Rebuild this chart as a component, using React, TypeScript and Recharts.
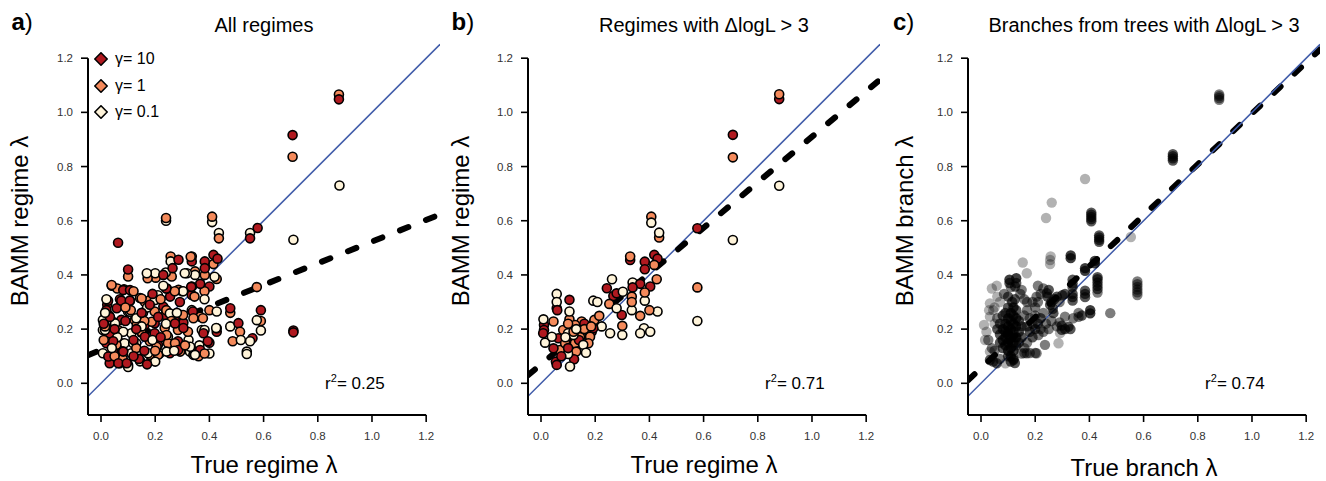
import React from 'react';
import { ScatterChart, Scatter, XAxis, YAxis, ReferenceLine, ReferenceDot, Legend } from 'recharts';

const FONT = '"Liberation Sans", Arial, Helvetica, sans-serif';
const RED = '#B0191F';
const ORANGE = '#F48A5B';
const CREAM = '#FFF4DA';
const BLUE = '#3F5BA9';

type P = [number, number];
type PN = [number, number, number];

const tickValues = [0, 0.2, 0.4, 0.6, 0.8, 1.0, 1.2];
const xDomain: [number, number] = [-0.048, 1.251];
const yDomain: [number, number] = [-0.117, 1.256];

const panelTags = ['a', 'b', 'c'];
const panelTitles = ['All regimes', 'Regimes with \u0394logL > 3', 'Branches from trees with \u0394logL > 3'];
const xLabels = ['True regime \u03bb', 'True regime \u03bb', 'True branch \u03bb'];
const yLabels = ['BAMM regime \u03bb', 'BAMM regime \u03bb', 'BAMM branch \u03bb'];
const r2Values = ['0.25', '0.71', '0.74'];
const fitIntercepts = [0.123, 0.07, 0.056];
const fitSlopes = [0.4, 0.84, 0.94];
const legendLabels = ['\u03b3= 10', '\u03b3= 1', '\u03b3= 0.1'];

// Panel a: all regimes
const aRed: P[] = [[0.063,0.519],[0.707,0.916],[0.878,1.048],[0.71,0.195],[0.71,0.188],[0.55,0.535],[0.578,0.573],[0.59,0.27],[0.477,0.277],[0.507,0.222],[0.559,0.166],[0.427,0.19],[0.40,0.15],[0.415,0.474],[0.43,0.46],[0.40,0.357],[0.383,0.45],[0.383,0.425],[0.366,0.367],[0.335,0.357],[0.335,0.326],[0.335,0.45],[0.298,0.252],[0.304,0.224],[0.286,0.456],[0.264,0.425],[0.255,0.32],[0.243,0.35],[0.23,0.40],[0.10,0.42],[0.085,0.347],[0.023,0.29],[0.058,0.277],[0.07,0.31],[0.107,0.305],[0.23,0.283],[0.236,0.252],[0.378,0.185],[0.366,0.123],[0.02,0.27],[0.075,0.234],[0.161,0.215],[0.198,0.222],[0.032,0.185],[0.198,0.185],[0.284,0.155],[0.02,0.148],[0.21,0.142],[0.044,0.117],[0.081,0.117],[0.254,0.111],[0.032,0.074],[0.069,0.074],[0.10,0.068],[0.339,0.265],[0.272,0.234],[0.394,0.155],[0.241,0.35],[0.333,0.356],[0.026,0.305],[0.075,0.305],[0.106,0.305],[0.082,0.344],[0.107,0.344],[0.033,0.245],[0.162,0.172],[0.045,0.155],[0.027,0.099],[0.082,0.117],[0.285,0.123],[0.064,0.074],[0.095,0.074],[0.273,0.221],[0.304,0.204],[0.291,0.3],[0.211,0.245],[0.13,0.2],[0.15,0.26],[0.18,0.29],[0.12,0.16],[0.05,0.2],[0.09,0.23],[0.16,0.12],[0.22,0.17],[0.14,0.09],[0.01,0.22],[0.19,0.33],[0.17,0.07],[0.12,0.1]];
const aOrange: P[] = [[0.878,1.066],[0.707,0.836],[0.24,0.61],[0.41,0.615],[0.435,0.535],[0.575,0.355],[0.59,0.23],[0.477,0.26],[0.486,0.155],[0.513,0.19],[0.427,0.385],[0.427,0.203],[0.40,0.27],[0.415,0.44],[0.383,0.40],[0.382,0.34],[0.366,0.246],[0.347,0.413],[0.335,0.468],[0.286,0.345],[0.257,0.468],[0.261,0.394],[0.202,0.39],[0.172,0.388],[0.10,0.394],[0.04,0.36],[0.06,0.35],[0.144,0.315],[0.162,0.30],[0.36,0.10],[0.292,0.117],[0.331,0.467],[0.18,0.307],[0.272,0.34],[0.345,0.32],[0.198,0.265],[0.241,0.27],[0.303,0.252],[0.376,0.24],[0.382,0.11],[0.124,0.234],[0.235,0.204],[0.284,0.197],[0.321,0.19],[0.063,0.197],[0.149,0.19],[0.057,0.142],[0.18,0.155],[0.247,0.148],[0.18,0.105],[0.039,0.363],[0.15,0.313],[0.132,0.215],[0.187,0.227],[0.242,0.178],[0.205,0.135],[0.273,0.148],[0.211,0.105],[0.341,0.24],[0.03,0.25],[0.11,0.27],[0.2,0.12],[0.13,0.13],[0.08,0.09],[0.16,0.23],[0.26,0.23],[0.22,0.31],[0.01,0.16],[0.05,0.1],[0.12,0.34],[0.31,0.14],[0.09,0.28],[0.015,0.21]];
const aCream: P[] = [[0.24,0.60],[0.41,0.595],[0.435,0.555],[0.55,0.555],[0.71,0.53],[0.88,0.73],[0.59,0.195],[0.575,0.233],[0.477,0.21],[0.516,0.16],[0.538,0.117],[0.538,0.108],[0.55,0.155],[0.427,0.265],[0.40,0.11],[0.382,0.31],[0.335,0.27],[0.347,0.40],[0.317,0.406],[0.30,0.34],[0.257,0.45],[0.239,0.409],[0.20,0.406],[0.169,0.406],[0.205,0.31],[0.372,0.197],[0.323,0.16],[0.328,0.117],[0.341,0.105],[0.21,0.325],[0.303,0.34],[0.382,0.197],[0.425,0.204],[0.363,0.14],[0.345,0.11],[0.10,0.265],[0.155,0.26],[0.007,0.234],[0.044,0.227],[0.007,0.197],[0.112,0.185],[0.247,0.172],[0.087,0.148],[0.13,0.148],[0.007,0.111],[0.112,0.111],[0.143,0.086],[0.217,0.111],[0.419,0.393],[0.309,0.406],[0.199,0.307],[0.107,0.264],[0.052,0.221],[0.015,0.197],[0.082,0.19],[0.254,0.258],[0.119,0.148],[0.144,0.081],[0.174,0.111],[0.242,0.117],[0.329,0.135],[0.347,0.105],[0.02,0.31],[0.06,0.17],[0.15,0.21],[0.19,0.16],[0.24,0.22],[0.28,0.26],[0.1,0.06],[0.17,0.28],[0.04,0.13],[0.27,0.12],[0.2,0.08],[0.13,0.24],[0.23,0.36],[0.015,0.26]];

// Panel b: regimes with dlogL > 3
const bRed: P[] = [[0.879,1.049],[0.708,0.917],[0.577,0.572],[0.329,0.455],[0.418,0.474],[0.43,0.46],[0.383,0.449],[0.383,0.421],[0.403,0.357],[0.366,0.367],[0.338,0.354],[0.298,0.252],[0.243,0.351],[0.267,0.322],[0.279,0.332],[0.058,0.277],[0.105,0.308],[0.011,0.215],[0.011,0.197],[0.008,0.185],[0.064,0.166],[0.046,0.129],[0.055,0.08],[0.058,0.068],[0.122,0.089],[0.187,0.19],[0.193,0.203],[0.06,0.27],[0.10,0.13],[0.14,0.16],[0.16,0.22],[0.075,0.1]];
const bOrange: P[] = [[0.879,1.067],[0.708,0.834],[0.577,0.354],[0.407,0.615],[0.436,0.538],[0.329,0.468],[0.418,0.437],[0.427,0.384],[0.383,0.335],[0.335,0.32],[0.335,0.30],[0.366,0.249],[0.40,0.27],[0.30,0.212],[0.252,0.293],[0.197,0.234],[0.215,0.249],[0.105,0.236],[0.046,0.228],[0.07,0.123],[0.089,0.148],[0.082,0.197],[0.125,0.148],[0.13,0.117],[0.144,0.17],[0.169,0.197],[0.181,0.172],[0.175,0.148],[0.15,0.228],[0.126,0.215],[0.1,0.22],[0.16,0.2],[0.12,0.19],[0.185,0.21]];
const bCream: P[] = [[0.879,0.729],[0.708,0.529],[0.577,0.23],[0.407,0.593],[0.436,0.556],[0.383,0.305],[0.338,0.372],[0.335,0.27],[0.43,0.265],[0.38,0.203],[0.366,0.185],[0.403,0.19],[0.30,0.178],[0.255,0.185],[0.224,0.21],[0.262,0.384],[0.302,0.338],[0.279,0.277],[0.193,0.305],[0.208,0.30],[0.058,0.33],[0.058,0.30],[0.105,0.265],[0.009,0.236],[0.015,0.15],[0.04,0.172],[0.10,0.108],[0.107,0.062],[0.10,0.185],[0.12,0.178],[0.156,0.142],[0.166,0.113],[0.13,0.2],[0.09,0.17]];

// Panel c: branches, [true, estimated, number of coincident branches]
const cStacks: PN[] = [[0.879,1.046,2],[0.879,1.053,2],[0.879,1.06,2],[0.879,1.066,2],[0.708,0.822,3],[0.708,0.83,3],[0.708,0.838,3],[0.708,0.846,3],[0.407,0.598,3],[0.407,0.606,3],[0.407,0.614,3],[0.407,0.622,3],[0.407,0.63,3],[0.436,0.522,3],[0.436,0.53,3],[0.436,0.538,3],[0.436,0.546,3],[0.577,0.326,2],[0.577,0.336,2],[0.577,0.346,2],[0.577,0.356,2],[0.577,0.366,2],[0.577,0.376,2],[0.43,0.335,2],[0.43,0.348,3],[0.43,0.36,3],[0.43,0.372,3],[0.43,0.384,3],[0.43,0.392,3],[0.331,0.462,4],[0.331,0.472,4],[0.384,0.415,4],[0.384,0.425,4],[0.42,0.443,4],[0.42,0.452,4],[0.384,0.318,3],[0.384,0.33,3],[0.384,0.342,3],[0.338,0.305,3],[0.338,0.318,3],[0.338,0.33,3],[0.338,0.355,3],[0.338,0.368,3],[0.338,0.382,3],[0.403,0.258,4],[0.403,0.27,4],[0.372,0.25,3],[0.36,0.245,2]];
const cSingles: PN[] = [[0.384,0.754,1],[0.261,0.667,1],[0.24,0.61,1],[0.553,0.54,1],[0.257,0.468,1],[0.255,0.44,1],[0.154,0.446,1],[0.169,0.406,1],[0.058,0.36,1],[0.033,0.295,1],[0.011,0.215,1],[0.033,0.246,1],[0.015,0.16,1],[0.033,0.117,1],[0.286,0.148,1],[0.292,0.185,1],[0.09,0.074,1],[0.255,0.455,1],[0.477,0.259,2],[0.236,0.142,2],[0.212,0.178,2],[0.18,0.112,2],[0.2,0.112,2],[0.16,0.112,2],[0.34,0.24,2],[0.36,0.26,2]];
const cBand: PN[] = [[0.31,0.246,2],[0.298,0.197,3],[0.298,0.213,3],[0.323,0.209,3],[0.31,0.2,3],[0.28,0.21,2],[0.29,0.225,2],[0.33,0.2,3],[0.243,0.333,3],[0.25,0.345,3],[0.245,0.32,3],[0.255,0.29,3],[0.267,0.259,3],[0.26,0.3,3],[0.27,0.31,3],[0.28,0.32,3],[0.3,0.325,3],[0.31,0.33,3],[0.29,0.3,2],[0.265,0.275,3],[0.22,0.33,2],[0.23,0.35,2],[0.21,0.36,2],[0.205,0.32,2],[0.21,0.3,2],[0.22,0.24,3],[0.23,0.26,2],[0.19,0.22,3],[0.2,0.2,3],[0.18,0.24,2],[0.21,0.22,3],[0.17,0.21,3],[0.2,0.25,2],[0.22,0.2,2],[0.24,0.22,2],[0.25,0.2,2],[0.26,0.23,2],[0.23,0.19,2],[0.18,0.19,3],[0.16,0.25,2],[0.17,0.27,2],[0.2,0.28,2],[0.19,0.3,2]];
const cCluster: PN[] = [[0.105,0.382,4],[0.13,0.388,4],[0.13,0.37,3],[0.126,0.357,3],[0.105,0.37,3],[0.11,0.355,2],[0.145,0.33,2],[0.16,0.31,2],[0.17,0.3,2],[0.15,0.345,2],[0.085,0.33,2],[0.07,0.3,1],[0.06,0.32,1],[0.045,0.27,1],[0.05,0.22,1],[0.04,0.35,1],[0.03,0.27,1],[0.02,0.19,1],[0.06,0.2,3],[0.07,0.18,3],[0.08,0.16,4],[0.09,0.14,4],[0.1,0.12,4],[0.11,0.1,4],[0.12,0.09,3],[0.08,0.2,4],[0.09,0.22,4],[0.1,0.24,4],[0.11,0.26,4],[0.12,0.28,4],[0.1,0.18,4],[0.11,0.2,4],[0.12,0.22,4],[0.13,0.24,4],[0.09,0.17,4],[0.1,0.15,4],[0.11,0.13,4],[0.12,0.15,4],[0.13,0.17,4],[0.14,0.19,3],[0.12,0.12,4],[0.13,0.14,3],[0.1,0.21,4],[0.11,0.23,4],[0.09,0.26,3],[0.1,0.28,3],[0.08,0.25,3],[0.07,0.22,3],[0.12,0.25,4],[0.13,0.27,3],[0.14,0.23,3],[0.15,0.21,3],[0.15,0.17,3],[0.14,0.15,3],[0.11,0.17,4],[0.1,0.19,4],[0.09,0.19,4],[0.12,0.19,4],[0.13,0.21,4],[0.08,0.13,3],[0.07,0.15,3],[0.1,0.1,3],[0.11,0.08,3],[0.115,0.3,3],[0.1,0.32,3],[0.125,0.31,3],[0.033,0.086,3],[0.045,0.08,3],[0.058,0.074,3],[0.07,0.09,2],[0.12,0.086,3],[0.125,0.075,3],[0.169,0.111,2],[0.15,0.11,2],[0.205,0.111,2],[0.027,0.16,2],[0.04,0.13,2],[0.05,0.12,2],[0.16,0.13,2],[0.17,0.15,2],[0.19,0.17,3],[0.06,0.24,2],[0.05,0.28,1]];

type Pt = { x: number; y: number; color: string; n: number };

function interleave(groups: { pts: P[]; color: string }[]): Pt[] {
  const out: Pt[] = [];
  const len = Math.max(...groups.map((g) => g.pts.length));
  for (let i = 0; i < len; i++) {
    for (const g of groups) {
      const p = g.pts[i];
      if (p) out.push({ x: p[0], y: p[1], color: g.color, n: 1 });
    }
  }
  return out;
}

const panelAData = interleave([
  { pts: aRed, color: RED },
  { pts: aOrange, color: ORANGE },
  { pts: aCream, color: CREAM },
]);
const panelBData = interleave([
  { pts: bRed, color: RED },
  { pts: bOrange, color: ORANGE },
  { pts: bCream, color: CREAM },
]);
const panelCData: Pt[] = [...cCluster, ...cBand, ...cSingles, ...cStacks].map((p) => ({
  x: p[0],
  y: p[1],
  color: '#000',
  n: p[2],
}));

const ringDot = (props: any) => {
  if (props.cx == null || props.cy == null) return <g />;
  return <circle cx={props.cx} cy={props.cy} r={4.5} fill={props.payload.color} stroke="#000" strokeWidth={1.6} />;
};
// n coincident semi-transparent branches (alpha 0.3 each) composite to 1 - 0.7^n
const greyDot = (props: any) => {
  if (props.cx == null || props.cy == null) return <g />;
  const op = 1 - Math.pow(0.7, props.payload.n);
  return <circle cx={props.cx} cy={props.cy} r={5.2} fill="#000" fillOpacity={op} />;
};

const fmt = (v: number) => v.toFixed(1);
const legendColors = [RED, ORANGE, CREAM];

const renderLegend = () => (
  <div style={{ fontFamily: FONT }}>
    {legendLabels.map((lab, i) => (
      <div key={lab} style={{ display: 'flex', alignItems: 'center', height: 26.4 }}>
        <svg width={14} height={14} style={{ display: 'block' }}>
          <polygon points="7,0.8 13.2,7 7,13.2 0.8,7" fill={legendColors[i]} stroke="#000" strokeWidth={1.6} />
        </svg>
        <span style={{ fontSize: 16, marginLeft: 7, color: '#000', lineHeight: '16px' }}>{lab}</span>
      </div>
    ))}
  </div>
);

interface PanelProps {
  idx: number;
  width: number;
  data: Pt[];
  shape: (p: any) => any;
  blueOnTop: boolean;
  yLabelX: number;
  xLabelY: number;
  showLegend: boolean;
}

function Panel({ idx, width, data, shape, blueOnTop, yLabelX, xLabelY, showLegend }: PanelProps) {
  const a = fitIntercepts[idx];
  const b = fitSlopes[idx];
  const blue = (
    <ReferenceLine
      segment={[{ x: xDomain[0], y: xDomain[0] }, { x: xDomain[1], y: xDomain[1] }]}
      stroke={BLUE}
      strokeWidth={1.5}
      ifOverflow="hidden"
    />
  );
  return (
    <div style={{ position: 'relative', width, height: 481 }}>
      <ScatterChart width={width} height={481} margin={{ top: 43, right: width - 440, bottom: 0, left: 0 }}>
        <XAxis
          type="number"
          dataKey="x"
          domain={xDomain}
          ticks={tickValues}
          allowDataOverflow
          axisLine={false}
          tickLine={{ stroke: '#000', strokeWidth: 1.6 }}
          tickSize={7}
          tickMargin={10}
          height={66}
          interval={0}
          tick={{ fontSize: 11.5, fill: '#333', fontFamily: FONT }}
          tickFormatter={fmt}
          label={{
            content: () => (
              <text x={264} y={xLabelY} textAnchor="middle" fontSize={24} fontFamily={FONT} fill="#000">
                {xLabels[idx]}
              </text>
            ),
          }}
        />
        <YAxis
          type="number"
          dataKey="y"
          domain={yDomain}
          ticks={tickValues}
          allowDataOverflow
          axisLine={false}
          tickLine={{ stroke: '#000', strokeWidth: 1.6 }}
          tickSize={7}
          tickMargin={8}
          width={88}
          interval={0}
          tick={{ fontSize: 11.5, fill: '#333', fontFamily: FONT }}
          tickFormatter={fmt}
          label={{
            content: () => (
              <text
                x={yLabelX}
                y={221}
                transform={`rotate(-90 ${yLabelX} 221)`}
                textAnchor="middle"
                fontSize={24}
                fontFamily={FONT}
                fill="#000"
              >
                {yLabels[idx]}
              </text>
            ),
          }}
        />
        {!blueOnTop && blue}
        <Scatter data={data} shape={shape} isAnimationActive={false} legendType="none" />
        <ReferenceLine
          segment={[
            { x: xDomain[0], y: a + b * xDomain[0] },
            { x: xDomain[1], y: a + b * xDomain[1] },
          ]}
          stroke="#000"
          strokeWidth={6}
          strokeDasharray="9 19"
          strokeLinecap="round"
          ifOverflow="hidden"
        />
        {blueOnTop && blue}
        <ReferenceLine
          segment={[{ x: xDomain[0], y: yDomain[0] }, { x: 1.2, y: yDomain[0] }]}
          stroke="#000"
          strokeWidth={2}
          ifOverflow="visible"
        />
        <ReferenceLine
          segment={[{ x: xDomain[0], y: yDomain[0] }, { x: xDomain[0], y: 1.2 }]}
          stroke="#000"
          strokeWidth={2}
          ifOverflow="visible"
        />
        <ReferenceDot
          x={0.827}
          y={0}
          r={0}
          ifOverflow="visible"
          shape={(p: any) => (
            <text x={p.cx} y={p.cy + 6} fontSize={17} fontFamily={FONT} fill="#000">
              <tspan>r</tspan>
              <tspan dy={-7} fontSize={11}>2</tspan>
              <tspan dy={7}>{'= ' + r2Values[idx]}</tspan>
            </text>
          )}
        />
        {showLegend && (
          <Legend
            layout="vertical"
            align="center"
            verticalAlign="middle"
            content={renderLegend}
            wrapperStyle={{ left: 94, top: 46, width: 110, height: 80 }}
          />
        )}
      </ScatterChart>
      <svg
        width={width}
        height={42}
        style={{ position: 'absolute', left: 0, top: 0, pointerEvents: 'none' }}
      >
        <text x={264} y={32} textAnchor="middle" fontSize={20} fontFamily={FONT} fill="#000">
          {panelTitles[idx]}
        </text>
        <text x={idx === 2 ? 13 : 11.5} y={29.5} fontSize={24} fontFamily={FONT} fill="#000">
          <tspan fontWeight="bold">{panelTags[idx]}</tspan>
          <tspan>)</tspan>
        </text>
      </svg>
    </div>
  );
}

export default function App() {
  return (
    <div
      style={{
        position: 'absolute',
        left: 0,
        top: 0,
        width: 1326,
        height: 481,
        display: 'flex',
        background: '#fff',
        fontFamily: FONT,
      }}
    >
      <Panel idx={0} width={440} data={panelAData} shape={ringDot} blueOnTop={false} yLabelX={28} xLabelY={473} showLegend />
      <Panel idx={1} width={440} data={panelBData} shape={ringDot} blueOnTop={false} yLabelX={29} xLabelY={473} showLegend={false} />
      <Panel idx={2} width={446} data={panelCData} shape={greyDot} blueOnTop yLabelX={33} xLabelY={476} showLegend={false} />
    </div>
  );
}
